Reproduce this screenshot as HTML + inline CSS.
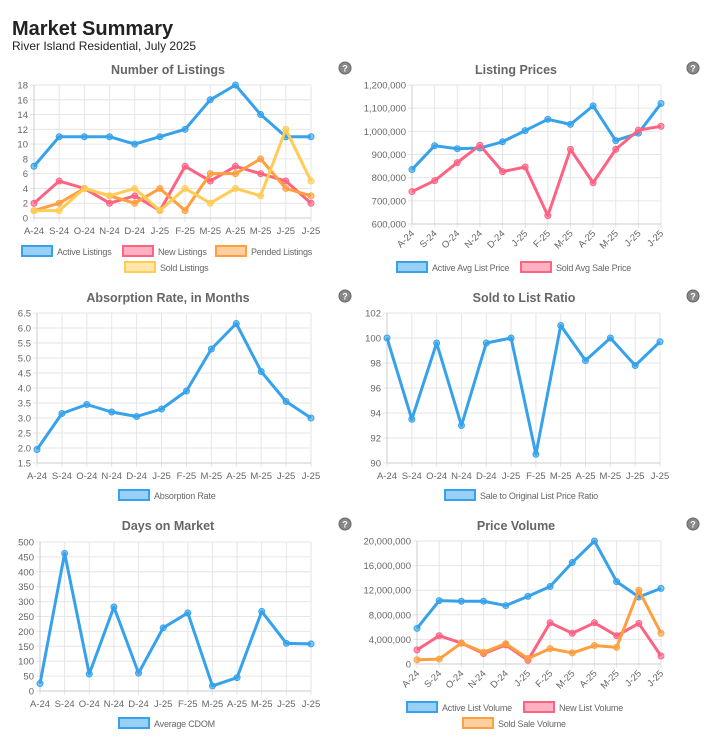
<!DOCTYPE html>
<html><head><meta charset="utf-8">
<style>
body{margin:0;background:#fff;width:722px;height:745px;overflow:hidden;font-family:"Liberation Sans",sans-serif}
#hdr{position:absolute;left:12px;top:18px}
#hdr h1{margin:0;font-size:20px;font-weight:bold;color:#222;line-height:22px}
#hdr div{font-size:12px;color:#222;line-height:13px}
svg{position:absolute;left:0;top:0}
</style></head><body>
<div id="hdr"><h1>Market Summary</h1><div>River Island Residential, July 2025</div></div>
<svg id="s" width="722" height="745"></svg>
<script>
const months=["A-24","S-24","O-24","N-24","D-24","J-25","F-25","M-25","A-25","M-25","J-25","J-25"];
const activeListings=[7,11,11,11,10,11,12,16,18,14,11,11];
const newListings=[2,5,4,2,3,1,7,5,7,6,5,2];
const pendedListings=[1,2,4,3,2,4,1,6,6,8,4,3];
const soldListings=[1,1,4,3,4,1,4,2,4,3,12,5];
const activeAvgListPrice=[835000,938000,925000,928000,955000,1003000,1052000,1030000,1110000,960000,992000,1120000];
const soldAvgSalePrice=[740000,787000,865000,940000,826000,846000,636000,922000,778000,922000,1005000,1022000];
const absorptionRate=[1.95,3.15,3.45,3.2,3.05,3.3,3.9,5.3,6.15,4.55,3.55,3.0];
const saleToListRatio=[100,93.5,99.6,93,99.6,100,90.7,101,98.2,100,97.8,99.7];
const averageCdom=[25,462,57,282,60,212,262,17,45,267,160,158];
const activeListVolume=[5800000,10300000,10200000,10200000,9500000,11000000,12600000,16500000,20000000,13400000,10900000,12300000];
const newListVolume=[2300000,4600000,3400000,1700000,3100000,600000,6700000,5000000,6700000,4600000,6600000,1300000];
const soldSaleVolume=[700000,800000,3400000,1900000,3300000,900000,2500000,1800000,3000000,2700000,12000000,5000000];
const ticks1=[0,2,4,6,8,10,12,14,16,18];
const ticks2=[600000,700000,800000,900000,1000000,1100000,1200000];
const ticks3=[1.5,2.0,2.5,3.0,3.5,4.0,4.5,5.0,5.5,6.0,6.5];
const ticks4=[90,92,94,96,98,100,102];
const ticks5=[0,50,100,150,200,250,300,350,400,450,500];
const ticks6=[0,4000000,8000000,12000000,16000000,20000000];

const BLUE="#36a2eb",PINK="#ff6384",ORANGE="#ff9f40",YELLOW="#ffcd56";
const NS="http://www.w3.org/2000/svg";
const svg=document.getElementById('s');
function el(t,a,p){const e=document.createElementNS(NS,t);for(const k in a)e.setAttribute(k,a[k]);(p||svg).appendChild(e);return e;}
function fmt(v,dec){if(dec)return v.toFixed(1);return v.toLocaleString('en-US');}
function chart(c){
  const g=el('g',{});
  
  
  const lo=c.ticks[0],hi=c.ticks[c.ticks.length-1];
  const n=months.length;
  const X=i=>c.x0+(c.x1-c.x0)*i/(n-1);
  const Y=v=>c.yb+(c.yt-c.yb)*(v-lo)/(hi-lo);
  const t=el('text',{x:c.tx,y:c.ty,'text-anchor':'middle','font-size':'12.5','font-weight':'bold',fill:'#666'},g);
  t.textContent=c.title;
  
  
  const hq=el('g',{},g);
  
  
  el('circle',{cx:c.hx,cy:c.hy,r:6,fill:'#888',stroke:'#666','stroke-width':1},hq);
  const hqt=el('text',{x:c.hx,y:c.hy+3.5,'text-anchor':'middle','font-size':'9','font-weight':'bold',fill:'#fff'},hq);hqt.textContent='?';
  c.ticks.forEach(v=>{
    el('line',{x1:c.x0-4,x2:c.x1,y1:Y(v),y2:Y(v),stroke:'#e6e6e6'},g);
    const tl=el('text',{x:c.x0-6,y:Y(v)+3.5,'text-anchor':'end','font-size':'9.5',fill:'#666'},g);
    tl.textContent=fmt(v,c.dec);
    
    
  });
  months.forEach((m,i)=>{
    el('line',{x1:X(i),x2:X(i),y1:c.yt,y2:c.yb+4,stroke:'#e6e6e6'},g);
    let tl;
    if(c.rot){tl=el('text',{x:X(i)+3,y:c.yb+10,'text-anchor':'end','font-size':'9.5',fill:'#666',transform:`rotate(-45 ${X(i)+3} ${c.yb+10})`},g);}
    else tl=el('text',{x:X(i),y:c.yb+16,'text-anchor':'middle','font-size':'9.5',fill:'#666'},g);
    tl.textContent=m;
    
    
  });
  el('line',{x1:c.x0,x2:c.x0,y1:c.yt,y2:c.yb,stroke:'#ccc'},g);
  el('line',{x1:c.x0,x2:c.x1,y1:c.yb,y2:c.yb,stroke:'#ccc'},g);
  c.series.forEach(s=>{
    const sg=el('g',{},g);
    
    
    el('polyline',{points:s.data.map((v,i)=>X(i)+','+Y(v)).join(' '),fill:'none',stroke:s.color,'stroke-width':3,'stroke-linejoin':'round'},sg);
    s.data.forEach((v,i)=>{
      const p=el('circle',{cx:X(i),cy:Y(v),r:3,fill:s.color,'fill-opacity':0.6,stroke:s.color,'stroke-width':1},sg);
      
      
    });
  });
  c.legend.forEach(l=>{
    const s=c.series[l.i];
    const lg=el('g',{},g);
    
    
    el('rect',{x:l.x,y:l.y-6,width:30,height:10,fill:s.color,'fill-opacity':0.5,stroke:s.color,'stroke-width':2},lg);
    const lt=el('text',{x:l.x+35,y:l.y+3,'font-size':'9','letter-spacing':'-0.2',fill:'#666'},lg);
    lt.textContent=s.label;
  });
}
chart({name:'number-of-listings-chart',title:'Number of Listings',tx:168,ty:74,hx:345,hy:68,x0:34,x1:311,yt:85,yb:218,ticks:ticks1,
 series:[{label:'Active Listings',data:activeListings,color:BLUE},{label:'New Listings',data:newListings,color:PINK},{label:'Pended Listings',data:pendedListings,color:ORANGE},{label:'Sold Listings',data:soldListings,color:YELLOW}],
 legend:[{i:0,x:22,y:252},{i:1,x:123,y:252},{i:2,x:216,y:252},{i:3,x:125,y:268}]});
chart({name:'listing-prices-chart',title:'Listing Prices',tx:516,ty:74,hx:693,hy:68,x0:412,x1:661,yt:85,yb:224,ticks:ticks2,rot:true,
 series:[{label:'Active Avg List Price',data:activeAvgListPrice,color:BLUE},{label:'Sold Avg Sale Price',data:soldAvgSalePrice,color:PINK}],
 legend:[{i:0,x:397,y:268},{i:1,x:521,y:268}]});
chart({name:'absorption-rate-chart',title:'Absorption Rate, in Months',tx:168,ty:302,hx:345,hy:296,x0:37,x1:311,yt:313,yb:463,ticks:ticks3,dec:true,
 series:[{label:'Absorption Rate',data:absorptionRate,color:BLUE}],
 legend:[{i:0,x:119,y:496}]});
chart({name:'sold-to-list-ratio-chart',title:'Sold to List Ratio',tx:524,ty:302,hx:693,hy:296,x0:387,x1:660,yt:313,yb:463,ticks:ticks4,
 series:[{label:'Sale to Original List Price Ratio',data:saleToListRatio,color:BLUE}],
 legend:[{i:0,x:445,y:496}]});
chart({name:'days-on-market-chart',title:'Days on Market',tx:168,ty:530,hx:345,hy:524,x0:40,x1:311,yt:542,yb:691,ticks:ticks5,
 series:[{label:'Average CDOM',data:averageCdom,color:BLUE}],
 legend:[{i:0,x:119,y:724}]});
chart({name:'price-volume-chart',title:'Price Volume',tx:516,ty:530,hx:693,hy:524,x0:417,x1:661,yt:541,yb:664,ticks:ticks6,rot:true,
 series:[{label:'Active List Volume',data:activeListVolume,color:BLUE},{label:'New List Volume',data:newListVolume,color:PINK},{label:'Sold Sale Volume',data:soldSaleVolume,color:ORANGE}],
 legend:[{i:0,x:407,y:708},{i:1,x:524,y:708},{i:2,x:463,y:724}]});
</script>
</body></html>
